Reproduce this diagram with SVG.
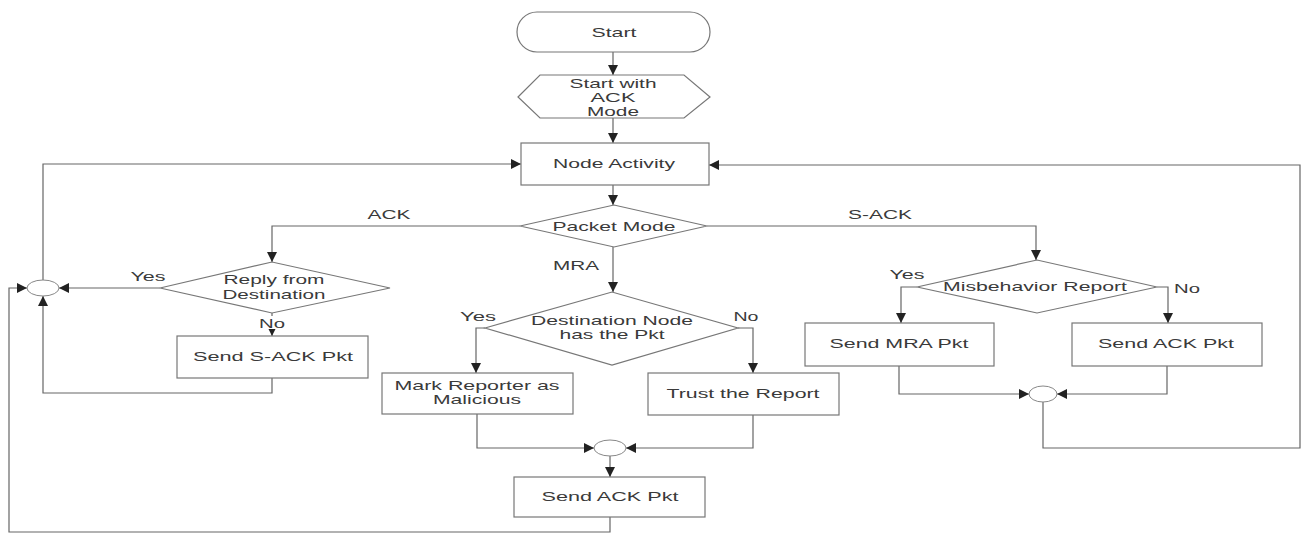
<svg xmlns="http://www.w3.org/2000/svg" width="1307" height="535" viewBox="0 0 1307 535">
<style>
.box{fill:#fff;stroke:#777;stroke-width:1.2}
.jn{fill:#fff;stroke:#888;stroke-width:1}
.ln{fill:none;stroke:#666;stroke-width:1.2}
.t{font-family:"Liberation Sans",Arial,sans-serif;font-size:13px;fill:#3a3a3a;text-anchor:middle}
</style>
<defs>
<marker id="a" viewBox="0 0 10 10" refX="10" refY="5" markerWidth="10" markerHeight="10" markerUnits="userSpaceOnUse" orient="auto">
<path d="M0,0 L10,5 L0,10 z" fill="#222"/>
</marker>
</defs>
<rect width="1307" height="535" fill="#fff"/>
<g id="connectors">
<path class="ln" d="M613,52 V75" marker-end="url(#a)"/>
<path class="ln" d="M613,118 V143" marker-end="url(#a)"/>
<path class="ln" d="M613,185 V205" marker-end="url(#a)"/>
<path class="ln" d="M520,226 H272 V262" marker-end="url(#a)"/>
<path class="ln" d="M707,226 H1036 V260" marker-end="url(#a)"/>
<path class="ln" d="M613,247 V292" marker-end="url(#a)"/>
<path class="ln" d="M160,288 H59" marker-end="url(#a)"/>
<path class="ln" d="M43,280 V164 H521" marker-end="url(#a)"/>
<path class="ln" d="M272,313 V336" marker-end="url(#a)"/>
<path class="ln" d="M272,378 V393 H43 V296" marker-end="url(#a)"/>
<path class="ln" d="M485,328 H476 V373" marker-end="url(#a)"/>
<path class="ln" d="M738,328 H753 V373" marker-end="url(#a)"/>
<path class="ln" d="M477,414 V448 H594" marker-end="url(#a)"/>
<path class="ln" d="M753,415 V448 H626" marker-end="url(#a)"/>
<path class="ln" d="M610,456 V477" marker-end="url(#a)"/>
<path class="ln" d="M610,517 V532 H9 V288 H27" marker-end="url(#a)"/>
<path class="ln" d="M917,287 H901 V323" marker-end="url(#a)"/>
<path class="ln" d="M1157,287 H1168 V323" marker-end="url(#a)"/>
<path class="ln" d="M899,366 V394 H1029" marker-end="url(#a)"/>
<path class="ln" d="M1167,366 V394 H1057" marker-end="url(#a)"/>
<path class="ln" d="M1043,402 V448 H1300 V165 H709" marker-end="url(#a)"/>
<rect x="258" y="316" width="28" height="13" fill="#fff"/>
<text class="t" x="389" y="219" textLength="43" lengthAdjust="spacingAndGlyphs">ACK</text>
<text class="t" x="880" y="219" textLength="64" lengthAdjust="spacingAndGlyphs">S-ACK</text>
<text class="t" x="576" y="270" textLength="46" lengthAdjust="spacingAndGlyphs">MRA</text>
<text class="t" x="148" y="281" textLength="35" lengthAdjust="spacingAndGlyphs">Yes</text>
<text class="t" x="272" y="328" textLength="26" lengthAdjust="spacingAndGlyphs">No</text>
<text class="t" x="478" y="321" textLength="36" lengthAdjust="spacingAndGlyphs">Yes</text>
<text class="t" x="746" y="321" textLength="25" lengthAdjust="spacingAndGlyphs">No</text>
<text class="t" x="907" y="279" textLength="35" lengthAdjust="spacingAndGlyphs">Yes</text>
<text class="t" x="1187" y="293" textLength="26" lengthAdjust="spacingAndGlyphs">No</text>
</g>
<g id="start">
<rect class="box" x="517" y="12" width="193" height="40" rx="20" ry="20"/>
<text class="t" x="614" y="37" textLength="45" lengthAdjust="spacingAndGlyphs">Start</text>
</g>
<g id="ackmode">
<polygon class="box" points="518,97 540,75 684,75 710,97 684,118 540,118"/>
<text class="t" x="613" y="88" textLength="87" lengthAdjust="spacingAndGlyphs">Start with</text>
<text class="t" x="613" y="102" textLength="45" lengthAdjust="spacingAndGlyphs">ACK</text>
<text class="t" x="613" y="116" textLength="52" lengthAdjust="spacingAndGlyphs">Mode</text>
</g>
<g id="nodeactivity">
<rect class="box" x="521" y="143" width="188" height="42"/>
<text class="t" x="614" y="168" textLength="122" lengthAdjust="spacingAndGlyphs">Node Activity</text>
</g>
<g id="packetmode">
<polygon class="box" points="520,226 614,205 707,226 614,247"/>
<text class="t" x="614" y="231" textLength="123" lengthAdjust="spacingAndGlyphs">Packet Mode</text>
</g>
<g id="reply">
<polygon class="box" points="160,288 272,262 390,288 272,313"/>
<text class="t" x="274" y="284" textLength="101" lengthAdjust="spacingAndGlyphs">Reply from</text>
<text class="t" x="274" y="299" textLength="103" lengthAdjust="spacingAndGlyphs">Destination</text>
</g>
<g id="sendsack">
<rect class="box" x="177" y="336" width="191" height="42"/>
<text class="t" x="273" y="361" textLength="160" lengthAdjust="spacingAndGlyphs">Send S-ACK Pkt</text>
</g>
<g id="destnode">
<polygon class="box" points="485,328 612,292 738,328 612,365"/>
<text class="t" x="612" y="325" textLength="162" lengthAdjust="spacingAndGlyphs">Destination Node</text>
<text class="t" x="612" y="339" textLength="105" lengthAdjust="spacingAndGlyphs">has the Pkt</text>
</g>
<g id="markreporter">
<rect class="box" x="382" y="373" width="191" height="41"/>
<text class="t" x="477" y="390" textLength="165" lengthAdjust="spacingAndGlyphs">Mark Reporter as</text>
<text class="t" x="477" y="404" textLength="88" lengthAdjust="spacingAndGlyphs">Malicious</text>
</g>
<g id="trust">
<rect class="box" x="648" y="373" width="191" height="42"/>
<text class="t" x="743" y="398" textLength="153" lengthAdjust="spacingAndGlyphs">Trust the Report</text>
</g>
<g id="misbehavior">
<polygon class="box" points="917,287 1037,260 1157,287 1037,313"/>
<text class="t" x="1035" y="291" textLength="184" lengthAdjust="spacingAndGlyphs">Misbehavior Report</text>
</g>
<g id="sendmra">
<rect class="box" x="805" y="323" width="189" height="43"/>
<text class="t" x="899" y="348" textLength="139" lengthAdjust="spacingAndGlyphs">Send MRA Pkt</text>
</g>
<g id="sendack2">
<rect class="box" x="1072" y="323" width="190" height="43"/>
<text class="t" x="1166" y="348" textLength="136" lengthAdjust="spacingAndGlyphs">Send ACK Pkt</text>
</g>
<g id="sendack1">
<rect class="box" x="514" y="477" width="191" height="40"/>
<text class="t" x="610" y="501" textLength="137" lengthAdjust="spacingAndGlyphs">Send ACK Pkt</text>
</g>
<g id="junction1"><ellipse class="jn" cx="43" cy="288" rx="16" ry="8"/></g>
<g id="junction2"><ellipse class="jn" cx="610" cy="448" rx="16" ry="8"/></g>
<g id="junction3"><ellipse class="jn" cx="1043" cy="394" rx="14" ry="8"/></g>
</svg>
